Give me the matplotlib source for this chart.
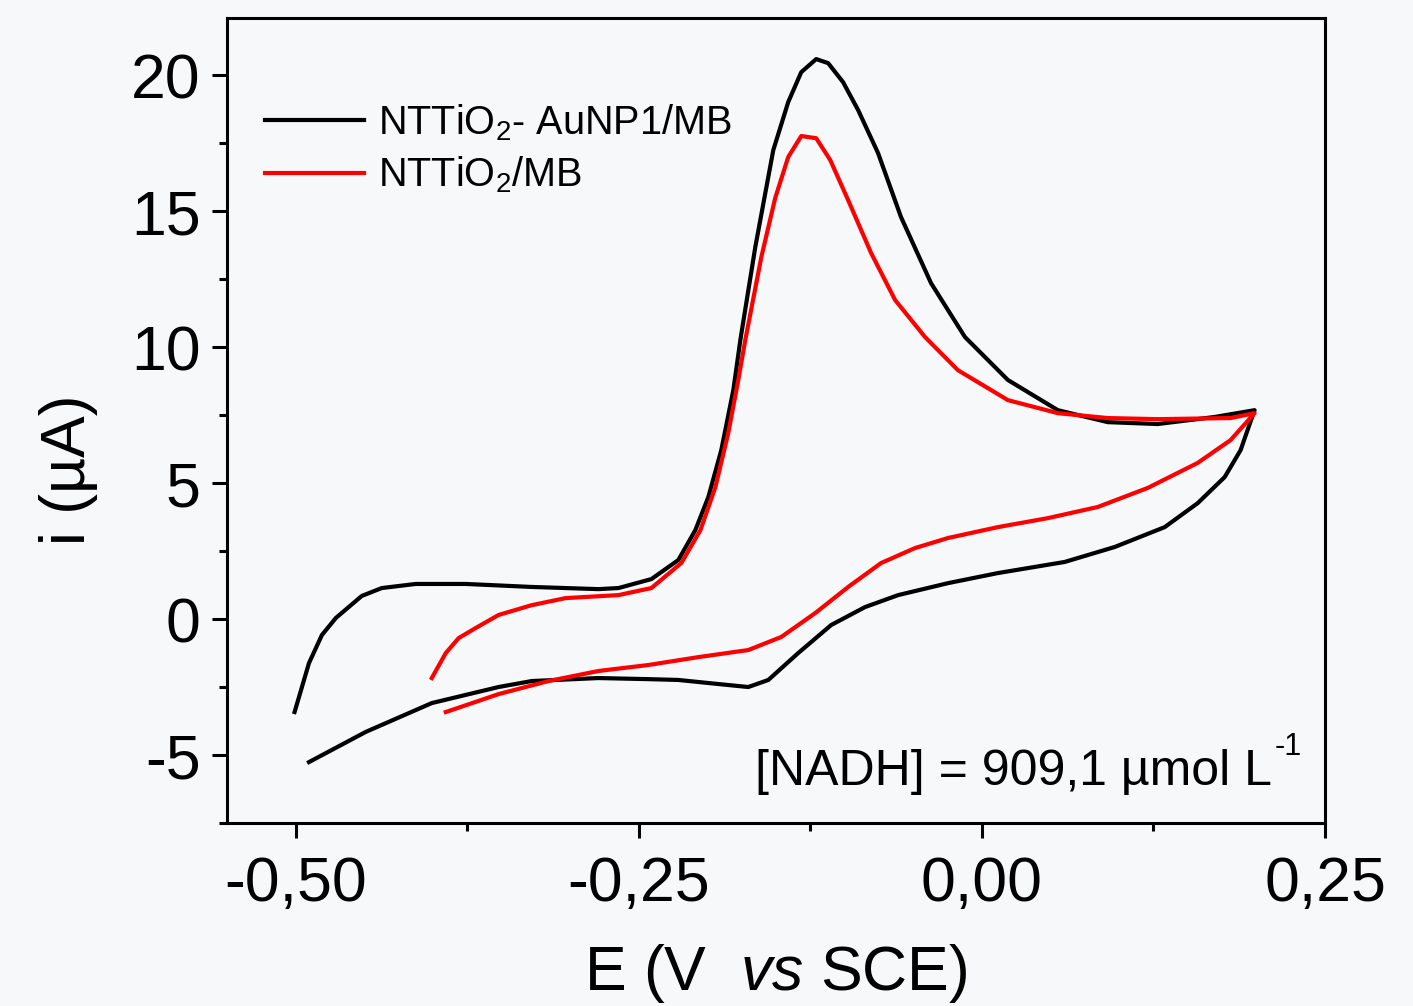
import numpy as np
import matplotlib.pyplot as plt

plt.rcParams['font.family'] = ['Liberation Sans', 'DejaVu Sans']
plt.rcParams['mathtext.fontset'] = 'custom'
plt.rcParams['mathtext.rm'] = 'Liberation Sans'
plt.rcParams['mathtext.it'] = 'Liberation Sans:italic'
plt.rcParams['axes.unicode_minus'] = False

# NTTiO2-AuNP1/MB, forward + reverse scan (E in V, i in uA)
e_au = [-0.501, -0.4905, -0.4811, -0.4709, -0.452, -0.4374, -0.4127, -0.3763, -0.3282, -0.2795,
        -0.2649, -0.2409, -0.2213, -0.2089, -0.1994, -0.19, -0.1812, -0.1761, -0.1652, -0.1521,
        -0.1412, -0.1317, -0.1208, -0.1121, -0.1012, -0.0902, -0.0757, -0.059, -0.0371, -0.0124,
        0.0189, 0.0553, 0.0917, 0.1281, 0.1696, 0.1987,
        0.1936, 0.1885, 0.1769, 0.1572, 0.1332, 0.0968, 0.0604, 0.0116, -0.0247, -0.0611,
        -0.0852, -0.1099, -0.1339, -0.1557, -0.1703, -0.1921, -0.2213, -0.2431, -0.2795, -0.3282,
        -0.3523, -0.401, -0.4491, -0.4905]
i_au = [-3.42, -1.62, -0.59, 0.04, 0.85, 1.14, 1.29, 1.29, 1.18, 1.10,
        1.14, 1.47, 2.17, 3.27, 4.49, 6.21, 8.42, 10.26, 13.68, 17.24,
        19.01, 20.11, 20.59, 20.44, 19.74, 18.71, 17.13, 14.78, 12.35, 10.37,
        8.79, 7.68, 7.24, 7.17, 7.43, 7.68,
        6.95, 6.21, 5.22, 4.26, 3.38, 2.65, 2.10, 1.69, 1.32, 0.88,
        0.44, -0.22, -1.25, -2.24, -2.50, -2.39, -2.24, -2.21, -2.17, -2.28,
        -2.50, -3.09, -4.15, -5.26]

# NTTiO2/MB
e_ti = [-0.401, -0.3908, -0.3814, -0.369, -0.3523, -0.3282, -0.3035, -0.2649, -0.2409, -0.2191,
        -0.2052, -0.1943, -0.1849, -0.1776, -0.1725, -0.1608, -0.1507, -0.1412, -0.1317, -0.1208,
        -0.1106, -0.0975, -0.0808, -0.0633, -0.0415, -0.0175, 0.0189, 0.0553, 0.0917, 0.1281,
        0.1812, 0.1987,
        0.1812, 0.1572, 0.1208, 0.0844, 0.048, 0.0116, -0.0247, -0.0488, -0.0735, -0.0975,
        -0.1215, -0.1463, -0.1703, -0.2067, -0.2431, -0.2795, -0.3159, -0.3523, -0.3908]
i_ti = [-2.17, -1.25, -0.70, -0.33, 0.15, 0.51, 0.77, 0.88, 1.14, 2.06,
        3.27, 4.85, 6.84, 8.79, 10.26, 13.31, 15.48, 16.99, 17.76, 17.68,
        16.88, 15.40, 13.46, 11.73, 10.37, 9.15, 8.05, 7.57, 7.39, 7.35,
        7.39, 7.57,
        6.58, 5.74, 4.82, 4.12, 3.71, 3.38, 2.98, 2.61, 2.06, 1.18,
        0.22, -0.66, -1.14, -1.40, -1.69, -1.91, -2.28, -2.76, -3.42]

xticks = [-0.50, -0.25, 0.00, 0.25]
xticklabels = ['-0,50', '-0,25', '0,00', '0,25']
yticks = [-5, 0, 5, 10, 15, 20]

bg = '#f7f8fa'
fig = plt.figure(figsize=(14.13, 10.06), dpi=100, facecolor=bg)
ax = fig.add_axes([0.1607, 0.1819, 0.777, 0.8002])
ax.set_facecolor(bg)

ax.plot(e_au, i_au, color='black', lw=3, label=r'NTTiO$_2$- AuNP1/MB')
ax.plot(e_ti, i_ti, color='#ff0000', lw=3, label=r'NTTiO$_2$/MB')

ax.set_xlim(-0.5502, 0.25)
ax.set_ylim(-7.5, 22.1)
ax.set_xticks(xticks)
ax.set_xticklabels(xticklabels)
ax.set_xticks([-0.375, -0.125, 0.125], minor=True)
ax.set_yticks(yticks)
ax.set_yticks(np.arange(-7.5, 22.1, 2.5), minor=True)

for s in ax.spines.values():
    s.set_linewidth(2.2)
ax.tick_params(which='major', direction='out', length=11, width=2.2, labelsize=45, pad=8)
ax.tick_params(which='minor', direction='out', length=6, width=2.2)
ax.tick_params(axis='x', which='major', pad=12)

ax.set_xlabel(r'E (V  $\mathit{vs}$ SCE)', fontsize=45, labelpad=20)
ax.set_ylabel('i (µA)', fontsize=45)
ax.yaxis.set_label_coords(-0.118, 0.4385)

ax.legend(loc='upper left', bbox_to_anchor=(0.002, 0.94), frameon=False, fontsize=28.5,
          handlelength=2.5, handletextpad=0.35, labelspacing=0.3)

t = ax.text(0.481, 0.047, '[NADH] = 909,1 µmol L', transform=ax.transAxes,
            fontsize=36, ha='left', va='baseline')
ax.annotate('-1', xy=(1, 0.72), xycoords=t, xytext=(2, 0), textcoords='offset points',
            fontsize=22, ha='left', va='bottom')

fig.savefig('out.png', dpi=100, facecolor=bg)
